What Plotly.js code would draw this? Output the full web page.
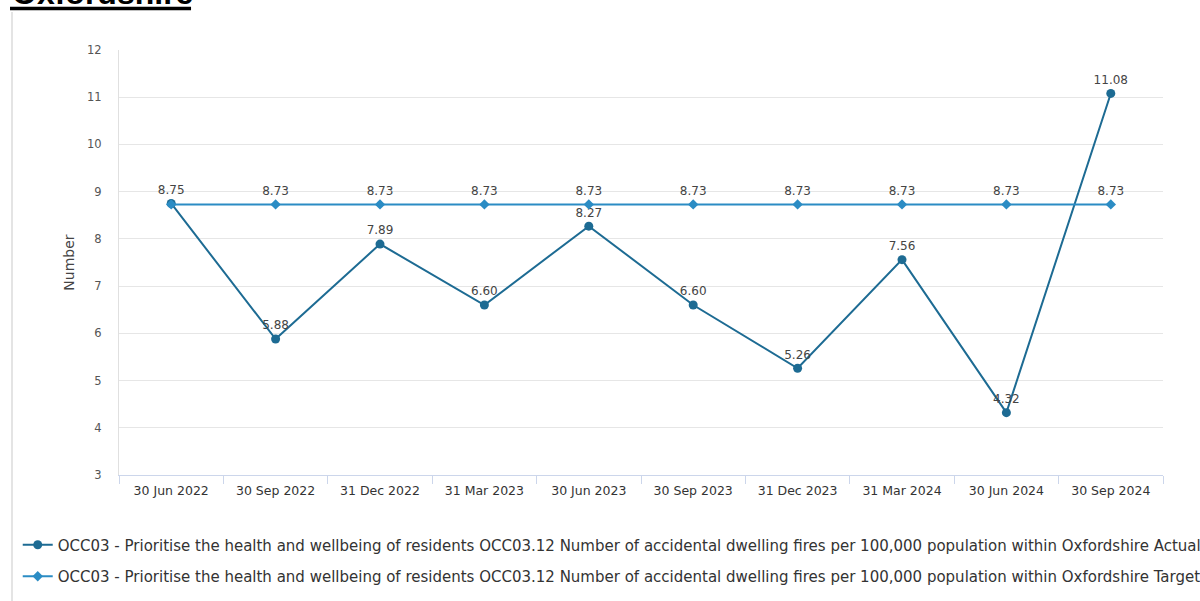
<!DOCTYPE html>
<html>
<head>
<meta charset="utf-8">
<script src="https://cdn.plot.ly/plotly-3.0.1.min.js"></script>
<style>
  html, body { margin: 0; padding: 0; background: #ffffff; overflow: hidden; }
  #chart { width: 1200px; height: 601px; }
</style>
</head>
<body>
<div id="chart"></div>
<script>
// Quarter-end reporting periods
const quarters = [
  "30 Jun 2022", "30 Sep 2022", "31 Dec 2022", "31 Mar 2023", "30 Jun 2023",
  "30 Sep 2023", "31 Dec 2023", "31 Mar 2024", "30 Jun 2024", "30 Sep 2024"
];

// Accidental dwelling fires per 100,000 population
const actualValues = [8.75, 5.88, 7.89, 6.60, 8.27, 6.60, 5.26, 7.56, 4.32, 11.08];
const targetValues = [8.73, 8.73, 8.73, 8.73, 8.73, 8.73, 8.73, 8.73, 8.73, 8.73];

const seriesBase = "OCC03 - Prioritise the health and wellbeing of residents OCC03.12 Number of accidental dwelling fires per 100,000 population within Oxfordshire";
const actualName = seriesBase + " Actual";
const targetName = seriesBase + " Target";

const actualColor = "#1d6b93";
const targetColor = "#2b8cc4";
const uiFont = "DejaVu Sans, Verdana, sans-serif";
const labelFont = { family: uiFont, size: 12, color: "#444444" };

// The first target label sits under the actual label, so it is left blank
const targetText = targetValues.map((v, i) => (i === 0 ? "" : v.toFixed(2)));
const actualText = actualValues.map(v => v.toFixed(2));

const traces = [
  {
    type: "scatter",
    mode: "lines+markers+text",
    name: actualName,
    legendgroup: "actual",
    x: quarters,
    y: actualValues,
    text: actualText,
    textposition: "top center",
    textfont: labelFont,
    line: { color: actualColor, width: 2 },
    marker: { color: actualColor, size: 9, symbol: "circle" },
    cliponaxis: false,
    hoverinfo: "x+y"
  },
  {
    type: "scatter",
    mode: "lines+markers+text",
    name: targetName,
    legendgroup: "target",
    x: quarters,
    y: targetValues,
    text: targetText,
    textposition: "top center",
    textfont: labelFont,
    line: { color: targetColor, width: 2 },
    marker: { color: targetColor, size: 8, symbol: "diamond" },
    cliponaxis: false,
    hoverinfo: "x+y"
  }
];

const layout = {
  width: 1200,
  height: 601,
  paper_bgcolor: "#ffffff",
  plot_bgcolor: "#ffffff",
  margin: { l: 119, r: 37, t: 50, b: 126, autoexpand: false },
  font: { family: uiFont, color: "#555555" },
  showlegend: true,
  legend: {
    orientation: "v",
    x: -0.097,
    xanchor: "left",
    y: -0.126,
    yanchor: "top",
    traceorder: "grouped",
    tracegroupgap: 9,
    font: { family: uiFont, size: 15, color: "#333333" },
    bgcolor: "rgba(0,0,0,0)"
  },
  xaxis: {
    type: "category",
    range: [-0.5, 9.5],
    showgrid: false,
    showline: true,
    linecolor: "#ccd6eb",
    linewidth: 1,
    ticks: "outside",
    tickson: "boundaries",
    ticklen: 8,
    tickcolor: "#ccd6eb",
    ticklabelstandoff: 4,
    tickfont: { family: uiFont, size: 12.5, color: "#333333" },
    zeroline: false,
    fixedrange: true
  },
  yaxis: {
    range: [3, 12],
    dtick: 1,
    tick0: 0,
    showgrid: true,
    gridcolor: "#e6e6e6",
    gridwidth: 1,
    showline: true,
    linecolor: "#e0e0e0",
    linewidth: 1,
    zeroline: false,
    ticks: "",
    ticklabelstandoff: 14,
    tickfont: { family: uiFont, size: 11.5, color: "#555555" },
    title: {
      text: "Number",
      font: { family: uiFont, size: 14, color: "#444444" },
      standoff: 9
    },
    fixedrange: true
  },
  annotations: [
    {
      text: "<b>Oxfordshire</b>",
      xref: "paper", yref: "paper",
      x: -0.1044, y: (475 - 13) / 425,
      xanchor: "left", yanchor: "bottom",
      showarrow: false,
      font: { family: "Liberation Sans, Arial, sans-serif", size: 32, color: "#000000" }
    }
  ],
  shapes: [
    // underline of the heading
    {
      type: "line", xref: "paper", yref: "paper",
      x0: -0.1044, x1: 0.069, y0: 1.0976, y1: 1.0976,
      line: { color: "#000000", width: 3.5 }
    },
    // left panel border
    {
      type: "line", xref: "paper", yref: "paper",
      x0: -0.1025, x1: -0.1025, y0: 1.0894, y1: -0.3,
      line: { color: "#e4e4e4", width: 2 }
    }
  ]
};

Plotly.newPlot("chart", traces, layout, { displayModeBar: false, staticPlot: true });
</script>
</body>
</html>
